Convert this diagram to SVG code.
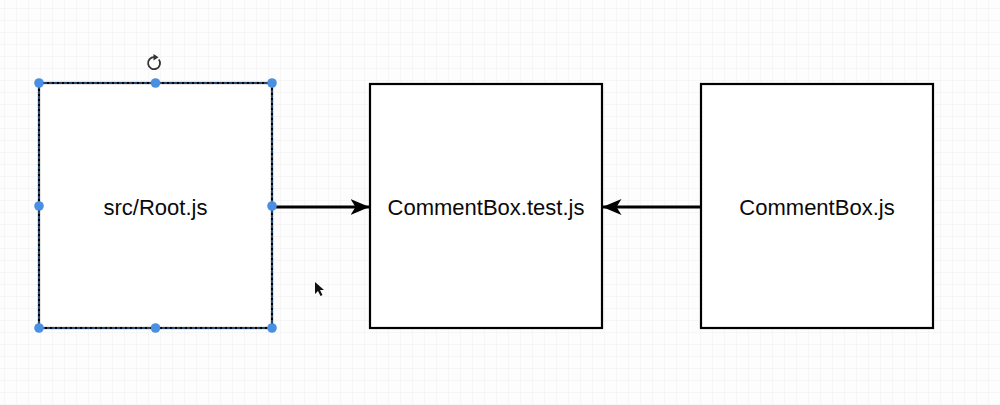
<svg xmlns="http://www.w3.org/2000/svg" width="1000" height="405" viewBox="0 0 1000 405">
<defs>
<pattern id="grid" x="4" y="8" width="12" height="12" patternUnits="userSpaceOnUse">
<path d="M12 0H0V12" fill="none" stroke="#efefef" stroke-width="1"/>
</pattern>
<marker id="arr" viewBox="0 0 19 16" refX="18.5" refY="8" markerWidth="19" markerHeight="16" markerUnits="userSpaceOnUse" orient="auto">
<path d="M0 0 L19 8 L0 16 L5 8 Z" fill="#000"/>
</marker>
</defs>
<style>
.box{fill:#fff;stroke:#000;stroke-width:2.2}
.lbl{font-family:"Liberation Sans",Arial,sans-serif;font-size:22px;fill:#0a0a0a;text-anchor:middle}
.edge{stroke:#000;stroke-width:3;fill:none}
.h{fill:#4a90e2}
</style>
<rect width="1000" height="405" fill="#fdfdfd"/>
<rect width="1000" height="405" fill="url(#grid)"/>
<g id="root">
<rect class="box" x="39" y="83" width="233" height="245"/>
<rect x="39" y="83" width="233" height="245" fill="none" stroke="#4a90e2" stroke-width="1" stroke-dasharray="3 2"/>
<text class="lbl" x="155.5" y="215">src/Root.js</text>
</g>
<g id="commentbox-test">
<rect class="box" x="370" y="84" width="232" height="244"/>
<text class="lbl" x="486" y="215">CommentBox.test.js</text>
</g>
<g id="commentbox">
<rect class="box" x="701" y="84" width="232" height="244"/>
<text class="lbl" x="817" y="215">CommentBox.js</text>
</g>
<g id="connectors">
<path class="edge" d="M276 207 H369" marker-end="url(#arr)"/>
<path class="edge" d="M700 207 H603" marker-end="url(#arr)"/>
</g>
<g id="selection">
<circle class="h" cx="39" cy="83" r="4.8"/>
<circle class="h" cx="155.5" cy="83" r="4.8"/>
<circle class="h" cx="272" cy="83" r="4.8"/>
<circle class="h" cx="39" cy="206" r="4.8"/>
<circle class="h" cx="272" cy="206" r="4.8"/>
<circle class="h" cx="39" cy="328" r="4.8"/>
<circle class="h" cx="155.5" cy="328" r="4.8"/>
<circle class="h" cx="272" cy="328" r="4.8"/>
<path d="M158.8 59.5 A6 6 0 1 1 154.5 57.2" fill="none" stroke="#333" stroke-width="1.8"/>
<path d="M153.5 54 L158.5 57.3 L153.5 60.6 Z" fill="#333"/>
</g>
<path d="M315 282 L315 294 L318 291 L320.5 296 L322.5 295 L320 290 L324 290 Z" fill="#111"/>
</svg>
